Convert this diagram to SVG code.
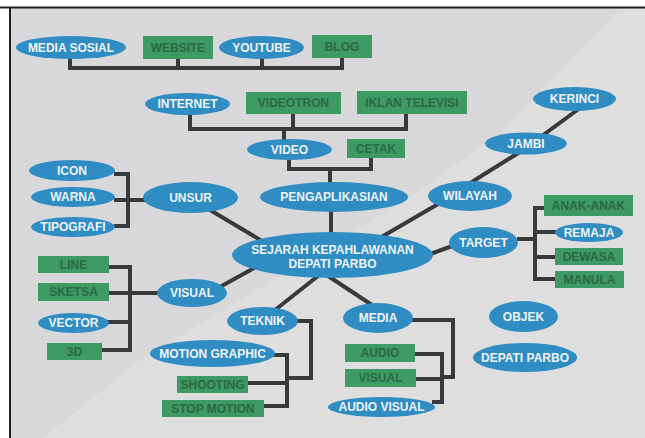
<svg xmlns="http://www.w3.org/2000/svg" width="645" height="438" viewBox="0 0 645 438">
<style>
.e{fill:#2f8dc3}
.r{fill:#3d9a62}
.t{font-family:"Liberation Sans",Arial,sans-serif;font-weight:bold;font-size:12px;text-anchor:middle}
.w{fill:#eef3f8}
.g{fill:#2b6a42}
.c{stroke:#38393b;stroke-width:4;fill:none}
</style>
<rect x="0" y="0" width="645" height="438" fill="#ffffff"/>
<polygon points="10,8 645,8 645,438 10,438" fill="#dededf"/>
<polygon points="10,8 620,8 500,133 410,197 140,360 43,438 10,438" fill="#d8d8db"/>
<path d="M0,7.5 H645 M10,7 V438" stroke="#1e1e1e" stroke-width="2" fill="none"/>
<g id="connectors" class="c">
<path d="M70,58 V68 M68,68 H344 M178,58 V68 M262,58 V68 M342,57 V68"/>
<path d="M190,114 V129 M188,129 H408 M293,113 V129 M406,113 V129 M284,129 V140"/>
<path d="M289,159 V169 H373 M371,157 V169 M330,169 V183"/>
<path d="M331,211 V233"/>
<path d="M210,210 L262,241"/>
<path d="M114,174 H128 V226 H114 M114,200 H145"/>
<path d="M218,288 L256,267"/>
<path d="M108,267 H130 V350 H101 M108,293 H158 M107,322 H130"/>
<path d="M378,239 L445,200 L475,180 L520,152 L580,108"/>
<path d="M425,256 L455,245"/>
<path d="M517,239 H535 M535,206 V281 M535,208 H545 M535,232 H556 M535,257 H556 M535,279 H556"/>
<path d="M325,274 L372,305"/>
<path d="M412,320 H453 V377 H442 M442,352 V404 M414,354 H444 M415,379 H444 M432,402 H444"/>
<path d="M318,276 L275,310"/>
<path d="M297,321 H311 V378 H287 M287,353 V408 M272,355 H289 M247,383 H289 M263,406 H289"/>
</g>
<g id="media-sosial"><ellipse class="e" cx="71" cy="47.5" rx="55" ry="11.5"/><text class="t w" x="71" y="52">MEDIA SOSIAL</text></g>
<g id="website"><rect class="r" x="143" y="36" width="70" height="23"/><text class="t g" x="178" y="52">WEBSITE</text></g>
<g id="youtube"><ellipse class="e" cx="261.5" cy="47.5" rx="42.5" ry="11.5"/><text class="t w" x="261.5" y="52">YOUTUBE</text></g>
<g id="blog"><rect class="r" x="312" y="35" width="60" height="23"/><text class="t g" x="342" y="51">BLOG</text></g>
<g id="internet"><ellipse class="e" cx="187.5" cy="104" rx="42.5" ry="11"/><text class="t w" x="187.5" y="108">INTERNET</text></g>
<g id="videotron"><rect class="r" x="246" y="92" width="95" height="22"/><text class="t g" x="293.5" y="107">VIDEOTRON</text></g>
<g id="iklan-televisi"><rect class="r" x="357" y="91" width="110" height="23"/><text class="t g" x="412" y="107">IKLAN TELEVISI</text></g>
<g id="video"><ellipse class="e" cx="289.5" cy="149.5" rx="42.5" ry="10.5"/><text class="t w" x="289.5" y="154">VIDEO</text></g>
<g id="cetak"><rect class="r" x="347" y="139" width="58" height="19"/><text class="t g" x="376" y="153">CETAK</text></g>
<g id="pengaplikasian"><ellipse class="e" cx="334" cy="197" rx="74" ry="15"/><text class="t w" x="334" y="201">PENGAPLIKASIAN</text></g>
<g id="unsur"><ellipse class="e" cx="190.5" cy="197.5" rx="47.5" ry="15.5"/><text class="t w" x="190.5" y="202">UNSUR</text></g>
<g id="icon"><ellipse class="e" cx="72" cy="170.5" rx="43" ry="10.5"/><text class="t w" x="72" y="175">ICON</text></g>
<g id="warna"><ellipse class="e" cx="73" cy="197" rx="42" ry="10"/><text class="t w" x="73" y="201">WARNA</text></g>
<g id="tipografi"><ellipse class="e" cx="73" cy="227" rx="42" ry="10"/><text class="t w" x="73" y="231">TIPOGRAFI</text></g>
<g id="sejarah"><ellipse class="e" cx="332.5" cy="255" rx="100.5" ry="23"/><text class="t w" x="332.5" y="254">SEJARAH KEPAHLAWANAN</text><text class="t w" x="332.5" y="268">DEPATI PARBO</text></g>
<g id="wilayah"><ellipse class="e" cx="470" cy="196" rx="42" ry="15"/><text class="t w" x="470" y="200">WILAYAH</text></g>
<g id="jambi"><ellipse class="e" cx="526" cy="143.5" rx="41" ry="11"/><text class="t w" x="526" y="148">JAMBI</text></g>
<g id="kerinci"><ellipse class="e" cx="574.5" cy="99" rx="41.5" ry="12"/><text class="t w" x="574.5" y="103">KERINCI</text></g>
<g id="target"><ellipse class="e" cx="483.5" cy="242.5" rx="34.5" ry="15.5"/><text class="t w" x="483.5" y="247">TARGET</text></g>
<g id="anak-anak"><rect class="r" x="544" y="195" width="89" height="21"/><text class="t g" x="588.5" y="210">ANAK-ANAK</text></g>
<g id="remaja"><ellipse class="e" cx="589" cy="232.5" rx="34" ry="9.5"/><text class="t w" x="589" y="237">REMAJA</text></g>
<g id="dewasa"><rect class="r" x="555" y="248" width="68" height="17"/><text class="t g" x="589" y="261">DEWASA</text></g>
<g id="manula"><rect class="r" x="555" y="271" width="69" height="17"/><text class="t g" x="589.5" y="284">MANULA</text></g>
<g id="objek"><ellipse class="e" cx="523.5" cy="316.5" rx="34.5" ry="15.5"/><text class="t w" x="523.5" y="321">OBJEK</text></g>
<g id="depati-parbo"><ellipse class="e" cx="525" cy="357.5" rx="52" ry="14.5"/><text class="t w" x="525" y="362">DEPATI PARBO</text></g>
<g id="media"><ellipse class="e" cx="378" cy="318" rx="35" ry="15"/><text class="t w" x="378" y="322">MEDIA</text></g>
<g id="audio"><rect class="r" x="345" y="344" width="70" height="18"/><text class="t g" x="380" y="357">AUDIO</text></g>
<g id="visual-media"><rect class="r" x="345" y="369" width="71" height="18"/><text class="t g" x="380.5" y="382">VISUAL</text></g>
<g id="audio-visual"><ellipse class="e" cx="381.5" cy="407" rx="53.5" ry="10"/><text class="t w" x="381.5" y="411">AUDIO VISUAL</text></g>
<g id="teknik"><ellipse class="e" cx="262.5" cy="321" rx="35.5" ry="14"/><text class="t w" x="262.5" y="325">TEKNIK</text></g>
<g id="motion-graphic"><ellipse class="e" cx="212.5" cy="353.5" rx="62.5" ry="13.5"/><text class="t w" x="212.5" y="358">MOTION GRAPHIC</text></g>
<g id="shooting"><rect class="r" x="177" y="376" width="71" height="17"/><text class="t g" x="212.5" y="389">SHOOTING</text></g>
<g id="stop-motion"><rect class="r" x="162" y="400" width="102" height="17"/><text class="t g" x="213" y="413">STOP MOTION</text></g>
<g id="visual"><ellipse class="e" cx="192" cy="293" rx="35" ry="14"/><text class="t w" x="192" y="297">VISUAL</text></g>
<g id="line"><rect class="r" x="38" y="256" width="71" height="17"/><text class="t g" x="73.5" y="269">LINE</text></g>
<g id="sketsa"><rect class="r" x="38" y="283" width="71" height="18"/><text class="t g" x="73.5" y="296">SKETSA</text></g>
<g id="vector"><ellipse class="e" cx="73.5" cy="323" rx="35.5" ry="10"/><text class="t w" x="73.5" y="327">VECTOR</text></g>
<g id="3d"><rect class="r" x="47" y="343" width="55" height="17"/><text class="t g" x="74.5" y="356">3D</text></g>
</svg>
